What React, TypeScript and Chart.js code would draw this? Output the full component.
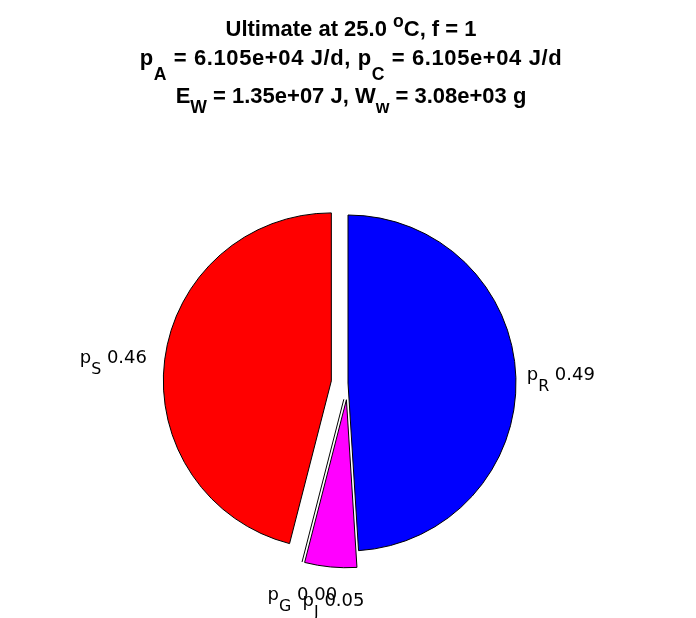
import { useEffect, useRef } from 'react';
import { Chart, registerables } from 'chart.js';

Chart.register(...registerables);

// ---- data ----
const SLICE_NAMES = ['R', 'J', 'G', 'S'];
const SLICE_VALUES = [0.49, 0.05, 0.0, 0.46];
const SLICE_COLORS = ['#0000ff', '#ff00ff', '#00ff00', '#ff0000'];
const SLICE_EXPLODE = [0, 1, 1, 1];

const TEMPERATURE = 25.0;
const F_VALUE = 1;
const P_A = 6.105e4;
const P_C = 6.105e4;
const E_W = 1.35e7;
const W_W = 3.08e3;

// ---- style ----
const W = 696;
const H = 618;
const PIE_RADIUS = 168;
const EXPLODE_FRACTION = 0.1;
const LABEL_FRACTION = 1.1;
const TITLE_FONT = '"Liberation Sans", Arial, Helvetica, sans-serif';
const LABEL_FONT = '"DejaVu Sans", "Liberation Sans", sans-serif';

type Seg = { t: string; sub?: boolean; sup?: boolean };

function fmtExp(v: number, d: number): string {
  return v.toExponential(d).replace(/e([+-])(\d)$/, 'e$10$2');
}

function drawRich(
  ctx: CanvasRenderingContext2D,
  segs: Seg[],
  x: number,
  baseline: number,
  align: 'left' | 'right' | 'center',
  size: number,
  weight: string,
  family: string,
  subScale: number,
  drop: number,
  rise: number,
  spacing = 0
) {
  (ctx as any).letterSpacing = `${spacing}px`;
  const sizes = segs.map((s) => (s.sub || s.sup ? size * subScale : size));
  const widths = segs.map((s, i) => {
    ctx.font = `${weight} ${sizes[i]}px ${family}`;
    return ctx.measureText(s.t).width;
  });
  const total = widths.reduce((a, b) => a + b, 0);
  let cx = align === 'left' ? x : align === 'right' ? x - total : x - total / 2;
  ctx.textAlign = 'left';
  ctx.textBaseline = 'alphabetic';
  ctx.fillStyle = '#000';
  segs.forEach((s, i) => {
    ctx.font = `${weight} ${sizes[i]}px ${family}`;
    ctx.fillText(s.t, cx, baseline + (s.sub ? drop : s.sup ? -rise : 0));
    cx += widths[i];
  });
  (ctx as any).letterSpacing = '0px';
}

const explodePlugin = {
  id: 'explodeSlices',
  beforeDatasetDraw(chart: any, args: any) {
    const ctx: CanvasRenderingContext2D = chart.ctx;
    const arcs = args.meta.data;
    arcs.forEach((arc: any, i: number) => {
      const p = arc.getProps(['x', 'y', 'startAngle', 'endAngle', 'outerRadius'], true);
      const mid = (p.startAngle + p.endAngle) / 2;
      const d = SLICE_EXPLODE[i] * EXPLODE_FRACTION * p.outerRadius;
      ctx.save();
      ctx.translate(Math.cos(mid) * d, Math.sin(mid) * d);
      if (p.endAngle - p.startAngle > 0) {
        arc.draw(ctx);
      } else {
        ctx.beginPath();
        ctx.moveTo(p.x, p.y);
        ctx.lineTo(p.x + Math.cos(mid) * p.outerRadius, p.y + Math.sin(mid) * p.outerRadius);
        ctx.strokeStyle = '#000';
        ctx.lineWidth = 1;
        ctx.stroke();
      }
      ctx.restore();
    });
    return false;
  },
};

const labelPlugin = {
  id: 'pieLabels',
  afterDraw(chart: any) {
    const ctx: CanvasRenderingContext2D = chart.ctx;
    const arcs = chart.getDatasetMeta(0).data;
    ctx.save();
    arcs.forEach((arc: any, i: number) => {
      const p = arc.getProps(['x', 'y', 'startAngle', 'endAngle', 'outerRadius'], true);
      const mid = (p.startAngle + p.endAngle) / 2;
      const dx = Math.cos(mid);
      const dy = Math.sin(mid);
      const d = SLICE_EXPLODE[i] * EXPLODE_FRACTION * p.outerRadius;
      const ax = p.x + dx * (d + LABEL_FRACTION * p.outerRadius);
      const ay = p.y + dy * (d + LABEL_FRACTION * p.outerRadius);
      const segs: Seg[] = [
        { t: 'p' },
        { t: SLICE_NAMES[i], sub: true },
        { t: ' ' + SLICE_VALUES[i].toFixed(2) },
      ];
      let align: 'left' | 'right' | 'center';
      let x: number;
      let base: number;
      if (dx > 0.5) {
        align = 'left';
        x = ax - 6;
        base = ay + 2.5;
      } else if (dx < -0.5) {
        align = 'right';
        x = ax - 1;
        base = ay + 5.5;
      } else {
        align = 'center';
        x = ax + 4.5;
        base = ay + 22;
      }
      drawRich(ctx, segs, x, base, align, 18, 'normal', LABEL_FONT, 0.88, 11, 8);
    });
    ctx.restore();
  },
};

const titlePlugin = {
  id: 'richTitle',
  afterDraw(chart: any) {
    const ctx: CanvasRenderingContext2D = chart.ctx;
    const lines: Seg[][] = [
      [
        { t: `Ultimate at ${TEMPERATURE.toFixed(1)} ` },
        { t: 'o', sup: true },
        { t: `C, f = ${F_VALUE}` },
      ],
      [
        { t: 'p' },
        { t: 'A', sub: true },
        { t: ` = ${fmtExp(P_A, 3)} J/d, p` },
        { t: 'C', sub: true },
        { t: ` = ${fmtExp(P_C, 3)} J/d` },
      ],
      [
        { t: 'E' },
        { t: 'W', sub: true },
        { t: ` = ${fmtExp(E_W, 2)} J, W` },
        { t: 'w', sub: true },
        { t: ` = ${fmtExp(W_W, 2)} g` },
      ],
    ];
    const baselines = [36, 65, 103];
    const drops = [12, 15, 10];
    const spacings = [0, 0.6, 0];
    ctx.save();
    lines.forEach((segs, i) => {
      drawRich(ctx, segs, 351, baselines[i], 'center', 22, 'bold', TITLE_FONT, 0.8, drops[i], 9, spacings[i]);
    });
    ctx.restore();
  },
};

export default function App() {
  const canvasRef = useRef<HTMLCanvasElement | null>(null);

  useEffect(() => {
    document.body.style.margin = '0';
    const canvas = canvasRef.current;
    if (!canvas) return;
    const chart = new Chart(canvas, {
      type: 'pie',
      data: {
        labels: SLICE_NAMES.map((n) => 'p' + n),
        datasets: [
          {
            data: SLICE_VALUES,
            backgroundColor: SLICE_COLORS,
            borderColor: '#000000',
            borderWidth: 1,
            hoverOffset: 0,
            offset: 0,
            radius: PIE_RADIUS,
          } as any,
        ],
      },
      options: {
        responsive: false,
        animation: false,
        devicePixelRatio: 1,
        layout: { padding: { top: 148, bottom: 0, left: 0, right: 0 } },
        plugins: {
          legend: { display: false },
          tooltip: { enabled: false },
          title: { display: false },
        },
        events: [],
      } as any,
      plugins: [explodePlugin, labelPlugin, titlePlugin],
    });
    return () => chart.destroy();
  }, []);

  return (
    <div style={{ width: W, height: H, background: '#fff' }}>
      <canvas ref={canvasRef} width={W} height={H} style={{ display: 'block' }} />
    </div>
  );
}
